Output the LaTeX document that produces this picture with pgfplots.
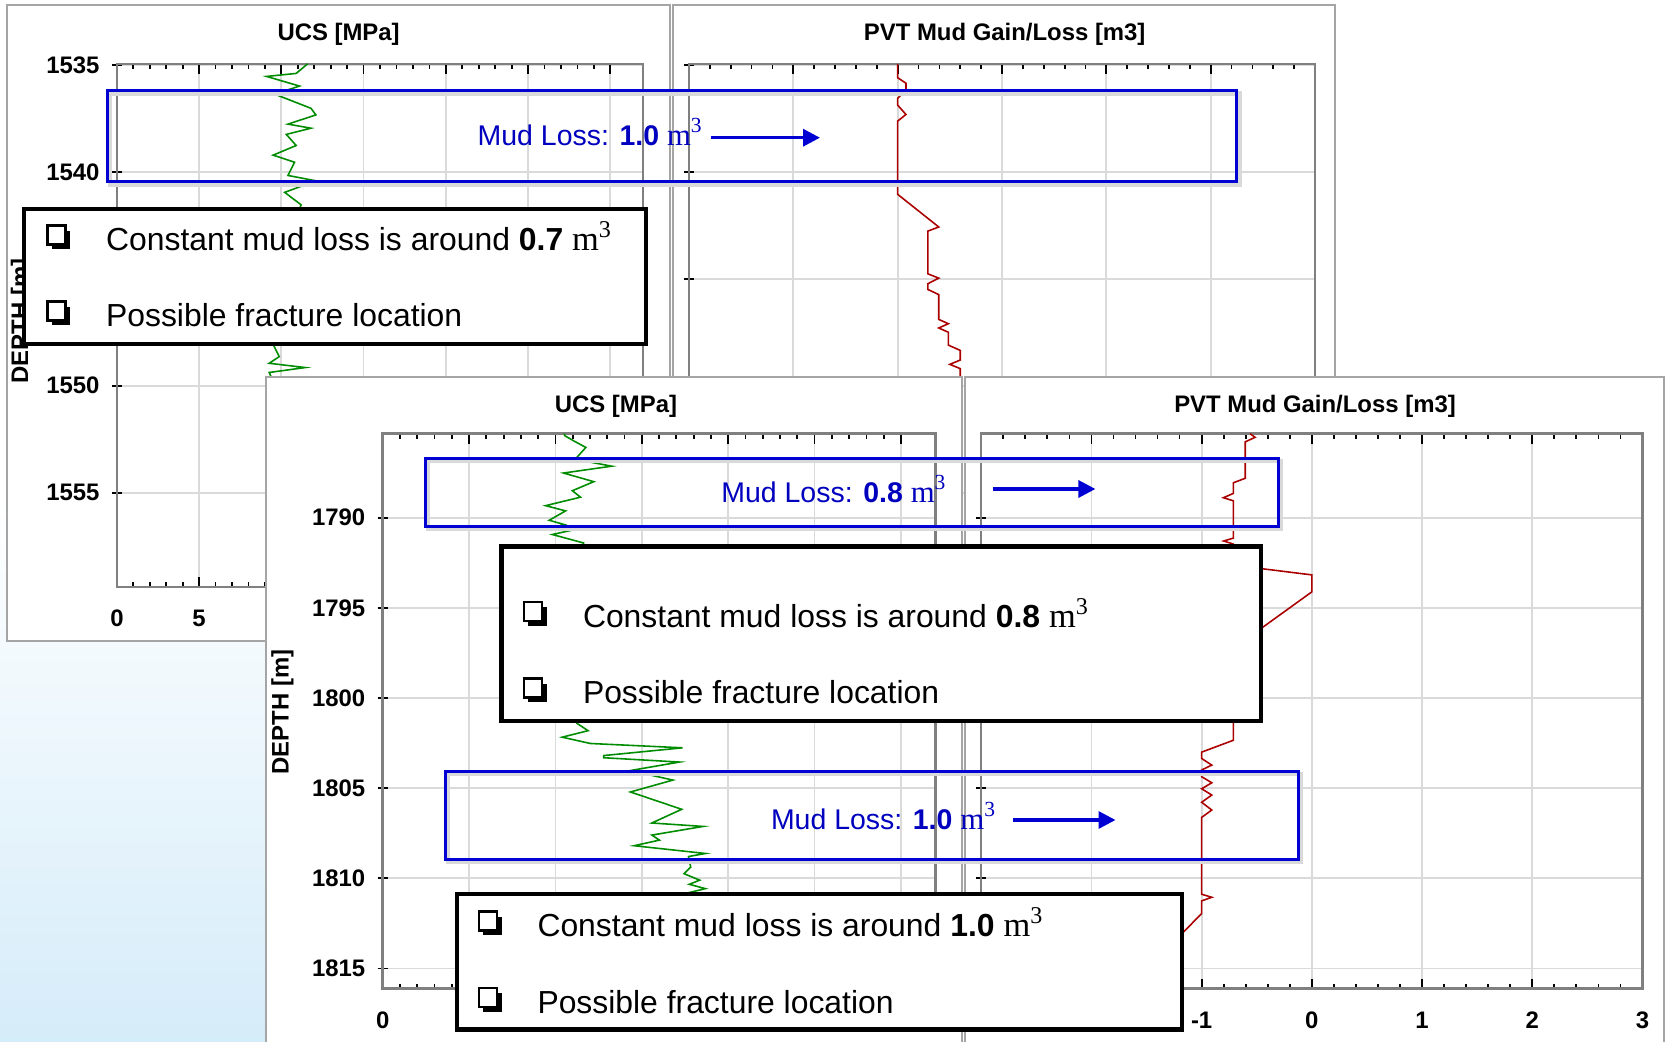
\documentclass[border=0pt]{standalone}
\usepackage{fontspec}
\setmainfont{Liberation Sans}
\newfontfamily\serifm{Liberation Serif}
\usepackage{pgfplots}
\pgfplotsset{compat=1.18}
\usetikzlibrary{arrows.meta}
\definecolor{ucsgreen}{RGB}{0,140,0}
\definecolor{pvtred}{RGB}{170,0,0}
\definecolor{annblue}{RGB}{0,0,210}
\definecolor{txtblue}{RGB}{0,0,190}
\definecolor{framegray}{RGB}{165,165,165}
\definecolor{axgray}{RGB}{128,128,128}
\definecolor{gridgray}{RGB}{218,218,218}
\definecolor{bgblue}{RGB}{213,236,249}
\newcommand\axfont{\fontsize{6.8}{8}\selectfont\bfseries}
\newcommand\boxfont{\fontsize{9.07}{11}\selectfont}
\newcommand\mudfont{\fontsize{8.1}{10}\selectfont}
\newcommand\mcube{{\serifm\fontsize{1.08em}{1em}\selectfont m\textsuperscript{3}}}
% check box: left x, baseline y
\newcommand\chk[2]{%
  \fill[black] (#1+0.05,#2+0.012) rectangle (#1+0.238,#2+0.2);
  \draw[black, line width=0.7pt, fill=white] (#1+0.008,#2+0.062) rectangle (#1+0.19,#2+0.25);
}

\pgfplotsset{
  logaxis/.style={
    scale only axis, anchor=center, y dir=reverse,
    axis line style={axgray, line width=0.7pt},
    grid=major, major grid style={gridgray, line width=0.5pt},
    xtick pos=both, ytick pos=left,
    xtick align=inside, ytick align=center,
    major tick length=0.1cm, minor tick length=0.05cm,
    minor x tick num=4,
    every tick/.style={black, line width=0.5pt},
    tick label style={font=\axfont},
    /pgf/number format/assume math mode=true,
    /pgf/number format/1000 sep={},
    xticklabel style={yshift=-0.11cm},
    yticklabel style={xshift=0cm},
  }
}

\begin{document}
\begin{tikzpicture}[x=1cm,y=1cm]
\useasboundingbox (0,0) rectangle (16.67,-10.42);
\fill[white] (0,0) rectangle (16.67,-10.42);
\shade[top color=white, bottom color=bgblue] (0,-5.0) rectangle (2.70,-10.42);

% ---------- top left panel : UCS ----------
\draw[framegray, line width=0.6pt, fill=white] (0.074,-0.053) rectangle (6.698,-6.41);
\node[anchor=base, font=\axfont] at (3.386,-0.405) {UCS [MPa]};
\node[rotate=90, font=\axfont] at (0.22,-3.21) {DEPTH [m]};
\begin{axis}[logaxis, at={(3.8005cm,-3.253cm)}, width=5.263cm, height=5.23cm,
  xmin=0, xmax=32, ymin=1534.95, ymax=1559.4,
  xtick={0,5,...,30}, ytick={1535,1540,...,1555}]
\addplot[ucsgreen, line width=0.45pt] coordinates {
(11.6,1534.95) (10.9,1535.4) (9.1,1535.54) (11.1,1535.99) (9.6,1536.37)
(11.8,1537.03) (12.1,1537.34) (10.4,1537.77) (11.8,1537.96) (10.3,1538.25)
(10.9,1538.77) (9.5,1539.22) (10.8,1539.55) (10.4,1540.17) (12.1,1540.42)
(10.2,1540.96) (11.2,1541.54) (10.5,1543.0) (11.0,1545.0) (10.2,1546.5)
(9.47,1548.02) (9.87,1548.64) (9.26,1548.95) (11.45,1549.15) (9.26,1549.38) (9.5,1549.8)
};
\end{axis}

% ---------- top right panel : PVT ----------
\draw[framegray, line width=0.6pt, fill=white] (6.73,-0.053) rectangle (13.35,-6.41);
\node[anchor=base, font=\axfont] at (10.047,-0.40) {PVT Mud Gain/Loss [m3]};
\begin{axis}[logaxis, at={(10.02cm,-3.253cm)}, width=6.262cm, height=5.23cm,
  xmin=-3, xmax=3, ymin=1534.95, ymax=1559.4,
  xtick={-3,...,3}, ytick={1535,1540,...,1555}, yticklabels={}]
\addplot[pvtred, line width=0.45pt] coordinates {
(-1.0,1534.95) (-1.0,1535.60) (-0.92,1535.86) (-0.92,1536.18) (-1.0,1536.57)
(-1.0,1536.88) (-0.92,1537.32) (-1.0,1537.63) (-1.0,1541.05) (-0.606,1542.58)
(-0.71,1542.77) (-0.71,1544.77) (-0.606,1544.97) (-0.71,1545.23) (-0.71,1545.5)
(-0.606,1545.74) (-0.606,1546.9) (-0.514,1547.1) (-0.606,1547.3) (-0.514,1547.5)
(-0.514,1548.1) (-0.40,1548.35) (-0.40,1548.8) (-0.50,1549.0) (-0.40,1549.2) (-0.40,1549.6)
};
\end{axis}

% ---------- annotations, top ----------
\draw[black!15, line width=1.3pt] (1.10,-0.935) rectangle (12.395,-1.845);
\draw[annblue, line width=0.8pt] (1.074,-0.907) rectangle (12.368,-1.817);
\node[anchor=base west, inner sep=0, text=txtblue, font=\mudfont] at (4.77,-1.46) {Mud Loss: \textbf{1.0} \mcube};
\draw[annblue, line width=0.95pt, -{Triangle[length=0.17cm,width=0.17cm]}] (7.107,-1.377) -- (8.20,-1.377);

\draw[black, line width=1.2pt, fill=white] (0.24,-2.087) rectangle (6.458,-3.44);
\chk{0.465}{-2.505}
\node[anchor=base west, inner sep=0, font=\boxfont] at (1.054,-2.505) {Constant mud loss is around \textbf{0.7} \mcube};
\chk{0.465}{-3.265}
\node[anchor=base west, inner sep=0, font=\boxfont] at (1.054,-3.265) {Possible fracture location};

% ---------- bottom left panel : UCS ----------
\draw[framegray, line width=0.6pt, fill=white] (2.658,-3.774) rectangle (9.62,-10.6);
\node[anchor=base, font=\axfont] at (6.16,-4.125) {UCS [MPa]};
\node[rotate=90, font=\axfont] at (2.824,-7.12) {DEPTH [m]};
\begin{axis}[logaxis, at={(6.591cm,-7.112cm)}, width=5.528cm, height=5.55cm,
  xmin=0, xmax=32, ymin=1785.34, ymax=1816.12,
  xtick={0,5,...,30}, ytick={1790,1795,...,1815}]
\addplot[ucsgreen, line width=0.45pt] coordinates {
(10.5,1785.34) (10.54,1785.45) (11.1,1785.76) (11.76,1786.1) (11.14,1786.76)
(13.26,1787.14) (10.47,1787.52) (12.22,1788.0) (10.98,1788.5) (11.45,1788.86)
(9.43,1789.33) (10.59,1789.62) (9.64,1790.14) (10.52,1790.38) (9.82,1790.57)
(11.29,1790.62) (9.82,1790.93) (11.63,1791.4) (11.0,1793.5) (11.6,1796.0)
(10.9,1798.5) (11.5,1800.5) (11.24,1801.4) (11.89,1801.81) (10.39,1802.17)
(12.02,1802.52) (17.36,1802.76) (12.79,1803.19) (12.79,1803.31) (17.18,1803.55)
(14.34,1804.02) (16.8,1804.55) (14.34,1805.21) (17.31,1806.17) (15.58,1806.93)
(18.55,1807.12) (15.58,1807.6) (16.02,1807.88) (14.55,1808.19) (18.68,1808.62)
(17.7,1808.79) (17.83,1809.38) (17.44,1809.74) (18.35,1810.1) (17.75,1810.33)
(18.68,1810.57) (17.65,1810.81) (18.2,1811.5)
};
\end{axis}

% ---------- bottom right panel : PVT ----------
\draw[framegray, line width=0.6pt, fill=white] (9.653,-3.774) rectangle (16.637,-10.6);
\node[anchor=base, font=\axfont] at (13.15,-4.12) {PVT Mud Gain/Loss [m3]};
\begin{axis}[logaxis, at={(13.1185cm,-7.112cm)}, width=6.613cm, height=5.55cm,
  xmin=-3, xmax=3, ymin=1785.34, ymax=1816.12,
  xtick={-3,...,3}, ytick={1790,1795,...,1815}, yticklabels={}]
\addplot[pvtred, line width=0.45pt] coordinates {
(-0.56,1785.34) (-0.515,1785.54) (-0.604,1785.79) (-0.604,1787.81) (-0.712,1788.06)
(-0.712,1788.65) (-0.803,1788.89) (-0.712,1789.06) (-0.712,1791.13) (-0.80,1791.29)
(-0.712,1791.46) (-0.712,1792.63) (0,1793.17) (0,1794.11) (-0.712,1797.25)
(-0.712,1802.34) (-1.0,1803.0) (-1.0,1803.35) (-0.908,1803.72) (-1.0,1803.99)
(-1.0,1804.36) (-0.908,1804.7) (-1.0,1805.03) (-0.908,1805.38) (-1.0,1805.78)
(-0.908,1806.21) (-1.0,1806.62) (-1.0,1810.88) (-0.908,1811.05) (-1.0,1811.25)
(-1.0,1811.95) (-1.2,1813.2)
};
\end{axis}

% ---------- annotations, bottom ----------
\draw[black!15, line width=1.3pt] (4.278,-4.61) rectangle (12.81,-5.29);
\draw[annblue, line width=0.8pt] (4.252,-4.582) rectangle (12.783,-5.262);
\node[anchor=base west, inner sep=0, text=txtblue, font=\mudfont] at (7.207,-5.03) {Mud Loss: \textbf{0.8} \mcube};
\draw[annblue, line width=0.95pt, -{Triangle[length=0.17cm,width=0.17cm]}] (9.925,-4.89) -- (10.954,-4.89);

\draw[black!15, line width=1.3pt] (4.479,-7.74) rectangle (13.01,-8.62);
\draw[annblue, line width=0.8pt] (4.453,-7.712) rectangle (12.984,-8.595);
\node[anchor=base west, inner sep=0, text=txtblue, font=\mudfont] at (7.703,-8.295) {Mud Loss: \textbf{1.0} \mcube};
\draw[annblue, line width=0.95pt, -{Triangle[length=0.17cm,width=0.17cm]}] (10.126,-8.20) -- (11.155,-8.20);

\draw[black, line width=1.2pt, fill=white] (5.016,-5.465) rectangle (12.61,-7.21);
\chk{5.232}{-6.27}
\node[anchor=base west, inner sep=0, font=\boxfont] at (5.823,-6.27) {Constant mud loss is around \textbf{0.8} \mcube};
\chk{5.232}{-7.035}
\node[anchor=base west, inner sep=0, font=\boxfont] at (5.823,-7.035) {Possible fracture location};

\draw[black, line width=1.2pt, fill=white] (4.568,-8.94) rectangle (11.82,-10.295);
\chk{4.78}{-9.365}
\node[anchor=base west, inner sep=0, font=\boxfont] at (5.368,-9.365) {Constant mud loss is around \textbf{1.0} \mcube};
\chk{4.78}{-10.13}
\node[anchor=base west, inner sep=0, font=\boxfont] at (5.368,-10.13) {Possible fracture location};
\end{tikzpicture}
\end{document}
